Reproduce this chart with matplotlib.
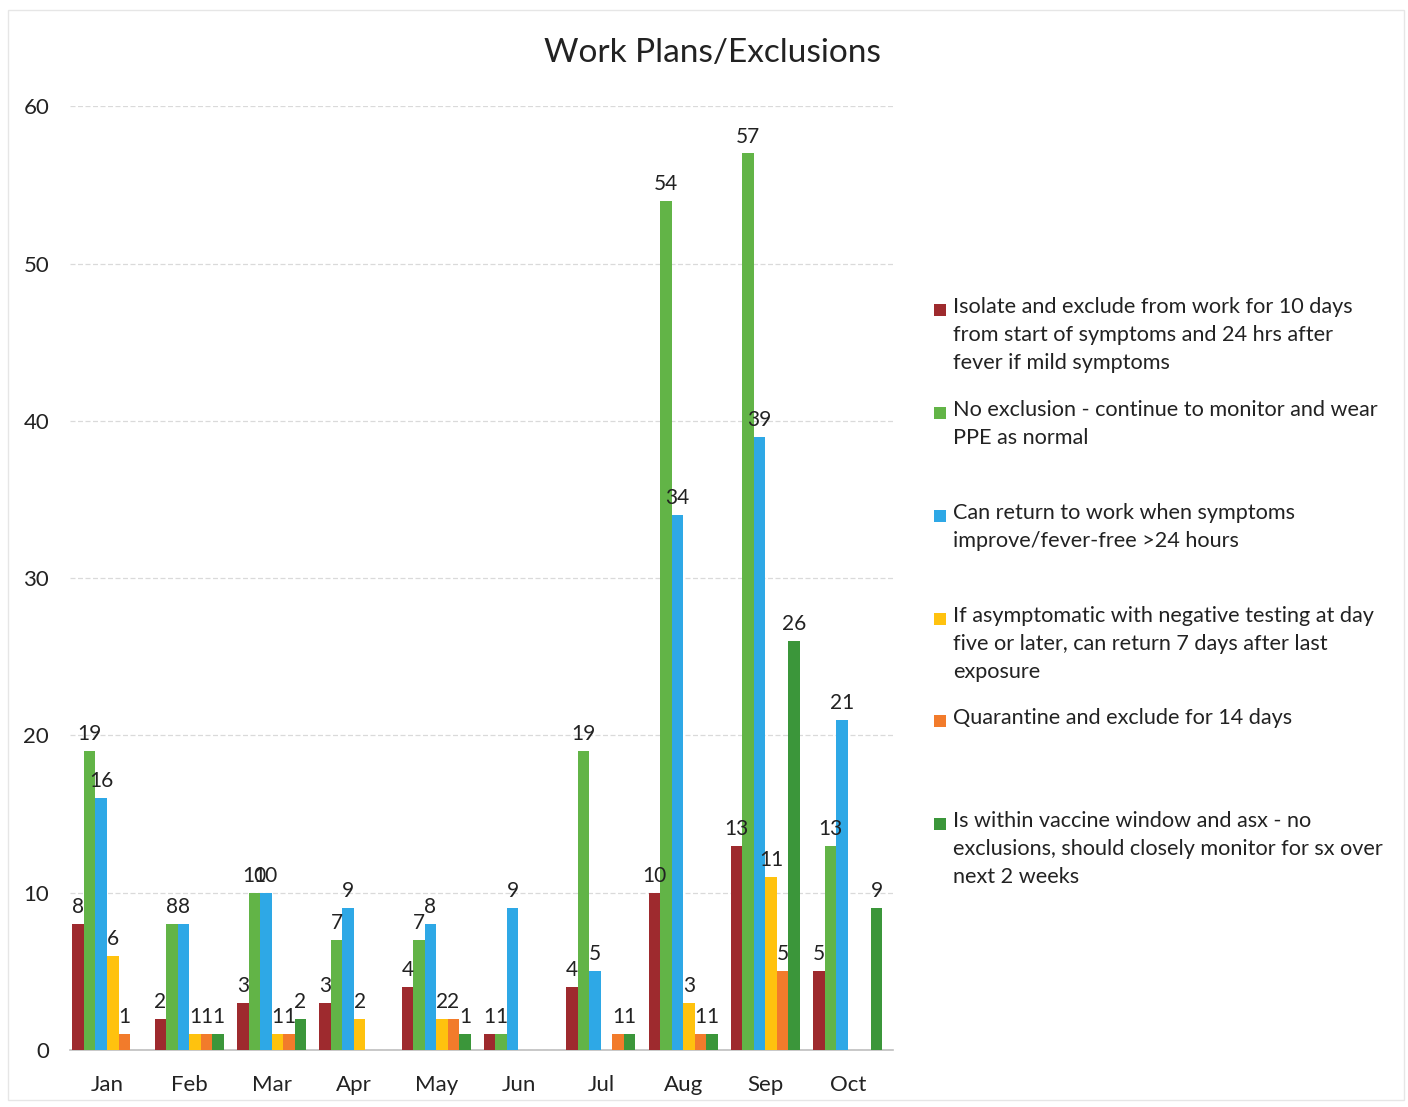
import matplotlib
matplotlib.use("Agg")
import matplotlib.pyplot as plt
import numpy as np
from matplotlib.patches import Rectangle

months = ["Jan", "Feb", "Mar", "Apr", "May", "Jun", "Jul", "Aug", "Sep", "Oct"]
isolate = [8, 2, 3, 3, 4, 1, 4, 10, 13, 5]
no_exclusion = [19, 8, 10, 7, 7, 1, 19, 54, 57, 13]
can_return = [16, 8, 10, 9, 8, 9, 5, 34, 39, 21]
asymptomatic = [6, 1, 1, 2, 2, 0, 0, 3, 11, 0]
quarantine = [1, 1, 1, 0, 2, 0, 1, 1, 5, 0]
vaccine_window = [0, 1, 2, 0, 1, 0, 1, 1, 26, 9]

series_labels = [
    "Isolate and exclude from work for 10 days\nfrom start of symptoms and 24 hrs after\nfever if mild symptoms",
    "No exclusion - continue to monitor and wear\nPPE as normal",
    "Can return to work when symptoms\nimprove/fever-free >24 hours",
    "If asymptomatic with negative testing at day\nfive or later, can return 7 days after last\nexposure",
    "Quarantine and exclude for 14 days",
    "Is within vaccine window and asx - no\nexclusions, should closely monitor for sx over\nnext 2 weeks",
]
series = [isolate, no_exclusion, can_return, asymptomatic, quarantine, vaccine_window]
colors = ["#9e2a2e", "#62b447", "#2ea8e6", "#ffc20e", "#f27b2b", "#3b963a"]

plt.rcParams['font.family'] = ['Lato', 'DejaVu Sans']

fig = plt.figure(figsize=(14.08, 11.07), dpi=100)
ax = fig.add_axes([0.0497, 0.0515, 0.5845, 0.8525])

x = np.arange(len(months))
bw = 0.14
n = len(series)
for i, (vals, col) in enumerate(zip(series, colors)):
    pos = x + (i - (n - 1) / 2) * bw
    ax.bar(pos, vals, width=bw, color=col, zorder=3)
    for px, v in zip(pos, vals):
        if v > 0:
            ax.annotate(str(v), (px, v), xytext=(0, 5), textcoords="offset points",
                        ha="center", va="bottom", fontsize=15, color="#222222", zorder=4)

ax.set_xlim(-0.45, len(months) - 0.45)
ax.set_ylim(0, 60)
ax.set_yticks(range(0, 61, 10))
ax.set_xticks(x)
ax.set_xticklabels(months)
ax.tick_params(axis="both", length=0, labelsize=16, colors="#222222")
ax.tick_params(axis="y", pad=15)
ax.tick_params(axis="x", pad=18)
ax.grid(axis="y", color="#dadada", linewidth=0.9, linestyle=(0, (4, 2)), zorder=0)
for s in ["top", "right", "left"]:
    ax.spines[s].set_visible(False)
ax.spines["bottom"].set_color("#bfbfbf")
ax.spines["bottom"].set_linewidth(1.2)

fig.text(712 / 1408, 1 - 53 / 1107, "Work Plans/Exclusions", ha="center", va="center",
         fontsize=24, color="#222222")

# legend
W, H = 1408, 1107
tops = [310, 413, 516, 619, 721, 824]
for lab, col, t in zip(series_labels, colors, tops):
    fig.patches.append(Rectangle((934 / W, 1 - (t + 6) / H), 12 / W, 12 / H,
                                 transform=fig.transFigure, facecolor=col,
                                 edgecolor="none"))
    fig.text(953 / W, 1 - (t - 13) / H, lab, ha="left", va="top", fontsize=15.6,
             linespacing=1.5, color="#222222")

fig.patches.append(Rectangle((8 / W, 1 - 1100 / H), 1396 / W, 1090 / H,
                             transform=fig.transFigure, facecolor="none",
                             edgecolor="#e6e6e6", linewidth=1))

fig.savefig("out.png", dpi=100)
